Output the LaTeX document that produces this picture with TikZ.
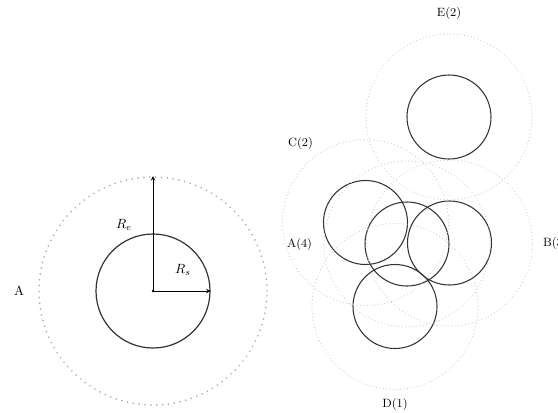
\documentclass[tikz,border=0pt]{standalone}
\usepackage{tikz}
\usetikzlibrary{arrows,positioning}

\begin{document}
\begin{tikzpicture}[
    x=0.75pt, y=-0.75pt,
    solidc/.style={draw=black!80, line width=0.8pt, circle, inner sep=0pt, minimum size=63pt},
    rangec/.style={draw=gray!40, circle, inner sep=0pt, minimum size=124.5pt, line width=0.9pt, line cap=round, dash pattern=on 0.01pt off 2.6pt},
    arrow/.style={->, line width=0.5pt, >=stealth},
    label/.style={font=\small}
]
\useasboundingbox (0,0) rectangle (558,412);

% Single node
\node[circle, inner sep=0pt, minimum size=171pt, draw=gray!65, line width=1.4pt, line cap=round, dash pattern=on 0.01pt off 4.4pt] (outer) at (153,291) {};
\node[solidc, minimum size=85.5pt, line width=0.9pt] (inner) at (153,291) {};
\fill (inner.center) circle (1.1pt);
\draw[arrow] (inner.center) -- (outer.north);
\draw[arrow] (inner.center) -- (inner.east);
\node at (124,225) {$R_e$};
\node at (183,270) {$R_s$};
\node[left=7pt of outer] {A};

% Neighbourhood
\node[solidc] (E) at (449,117) {};
\node[solidc] (C) at (365.5,222.5) {};
\node[solidc] (A) at (407,244) {};
\node[solidc] (B) at (449.5,243) {};
\node[solidc] (D) at (395,306.5) {};

\node[rangec] (rE) at (E) {};
\node[rangec] (rC) at (C) {};
\node[rangec] (rA) at (A) {};
\node[rangec] (rB) at (B) {};
\node[rangec] (rD) at (D) {};

% Labels
\node[label, above=7pt of rE] {E(2)};
\node[label, anchor=south east] at (rC.125) {C(2)};
\node[label, left=5pt of rA] {A(4)};
\node[label, right=4pt of rB] {B(3)};
\node[label, below=3pt of rD] {D(1)};

\end{tikzpicture}
\end{document}
